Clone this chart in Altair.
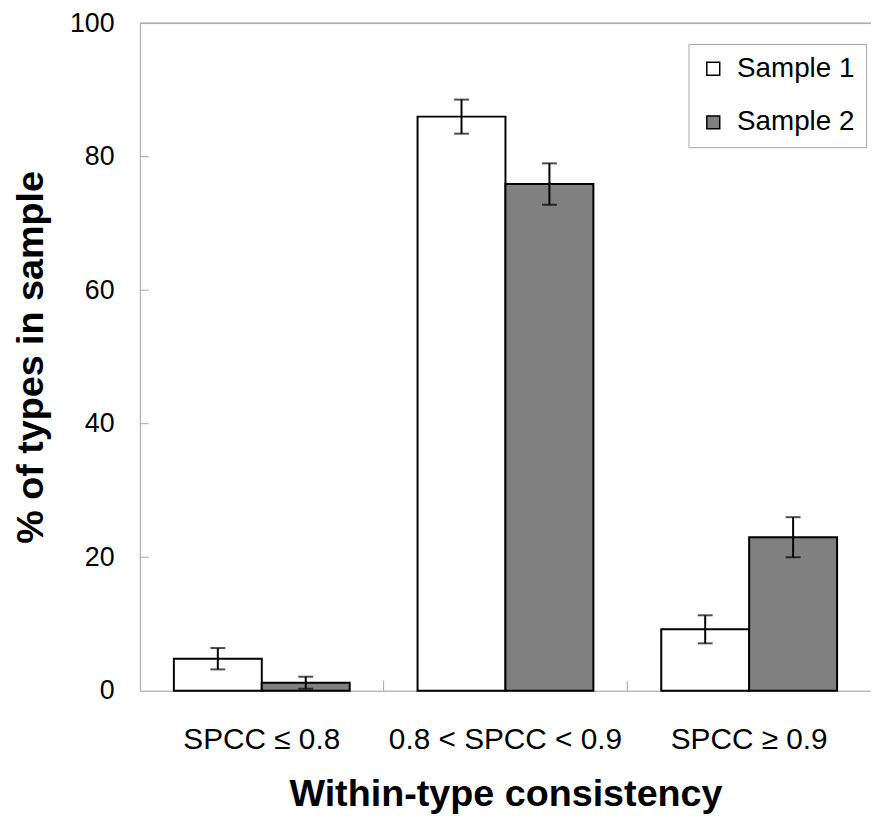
import altair as alt
import pandas as pd

categories = ["SPCC ≤ 0.8", "0.8 < SPCC < 0.9", "SPCC ≥ 0.9"]
series = ["Sample 1", "Sample 2"]
sample1 = [4.8, 86.0, 9.2]
sample1_err = [1.6, 2.55, 2.1]
sample2 = [1.2, 75.9, 23.0]
sample2_err = [0.9, 3.1, 3.0]
y_ticks = [0, 20, 40, 60, 80, 100]

rows = []
for i, c in enumerate(categories):
    for s, vals, errs in ((series[0], sample1, sample1_err), (series[1], sample2, sample2_err)):
        rows.append({"cat": c, "series": s, "value": vals[i],
                     "lo": vals[i] - errs[i], "hi": vals[i] + errs[i]})
df = pd.DataFrame(rows)

FONT = "Liberation Sans"
GRAY = "#a6a6a6"
W, H = 737, 673

x_axis = alt.Axis(title="Within-type consistency", labelAngle=0, ticks=False,
                  labelFontSize=30, labelPadding=34, labelLimit=0, titleFontSize=38,
                  titleFontWeight="bold", titlePadding=22, domainColor=GRAY,
                  labelColor="black", titleColor="black")
y_axis = alt.Axis(title="% of types in sample", values=y_ticks, ticks=False,
                  grid=False, labelFontSize=27, labelPadding=26, titleFontSize=38,
                  titleFontWeight="bold", titlePadding=19, domainColor=GRAY,
                  labelColor="black", titleColor="black")
x_scale = alt.Scale(paddingInner=0, paddingOuter=0)
y_scale = alt.Scale(domain=[0, 100], nice=False)
off_scale = alt.Scale(paddingOuter=0.386, paddingInner=0)

base = alt.Chart(df)

bars = base.mark_bar(stroke="black", strokeWidth=2).encode(
    x=alt.X("cat:N", sort=categories, scale=x_scale, axis=x_axis),
    xOffset=alt.XOffset("series:N", sort=series, scale=off_scale),
    y=alt.Y("value:Q", scale=y_scale, axis=y_axis),
    fill=alt.Fill("series:N", sort=series,
                  scale=alt.Scale(domain=series, range=["white", "#808080"]),
                  legend=alt.Legend(title=None, orient="none", legendX=553, legendY=21,
                                    symbolType="square", symbolSize=169,
                                    symbolStrokeColor="black", symbolStrokeWidth=1.5,
                                    labelFontSize=28, labelFont=FONT, labelColor="black",
                                    labelOffset=10, rowPadding=26, padding=11,
                                    strokeColor=GRAY, fillColor="white")),
)

err_rule = base.mark_rule(color="black", strokeWidth=2).encode(
    x=alt.X("cat:N", sort=categories, scale=x_scale, axis=x_axis),
    xOffset=alt.XOffset("series:N", sort=series, scale=off_scale),
    y=alt.Y("lo:Q", scale=y_scale, axis=y_axis),
    y2="hi:Q",
)
cap_lo = base.mark_tick(color="black", orient="horizontal", size=15, thickness=2).encode(
    x=alt.X("cat:N", sort=categories, scale=x_scale, axis=x_axis),
    xOffset=alt.XOffset("series:N", sort=series, scale=off_scale),
    y=alt.Y("lo:Q", scale=y_scale, axis=y_axis),
)
cap_hi = base.mark_tick(color="black", orient="horizontal", size=15, thickness=2).encode(
    x=alt.X("cat:N", sort=categories, scale=x_scale, axis=x_axis),
    xOffset=alt.XOffset("series:N", sort=series, scale=off_scale),
    y=alt.Y("hi:Q", scale=y_scale, axis=y_axis),
)

ytick_df = pd.DataFrame({"value": y_ticks[1:-1]})
ytick_rules = alt.Chart(ytick_df).mark_rule(color=GRAY, strokeWidth=1).encode(
    y=alt.Y("value:Q", scale=y_scale, axis=y_axis),
    x=alt.value(0), x2=alt.value(9),
)
xtick_df = pd.DataFrame({"cat": categories[1:]})
xtick_rules = alt.Chart(xtick_df).mark_rule(color=GRAY, strokeWidth=1).encode(
    x=alt.X("cat:N", sort=categories, scale=x_scale, axis=x_axis, bandPosition=0),
    y=alt.value(H), y2=alt.value(H - 10),
)
top_border = alt.Chart(xtick_df).mark_rule(color=GRAY, strokeWidth=1).encode(
    y=alt.value(0), x=alt.value(0), x2=alt.value(W),
)

chart = alt.layer(top_border, ytick_rules, xtick_rules, bars, err_rule, cap_lo, cap_hi).properties(
    width=W, height=H,
    autosize=alt.AutoSizeParams(type="none"),
    padding={"left": 133, "top": 12, "right": 0, "bottom": 126},
).configure_view(stroke=None).configure(font=FONT, background="white")

chart.save("out.html", embed_options={"renderer": "svg", "actions": False})
